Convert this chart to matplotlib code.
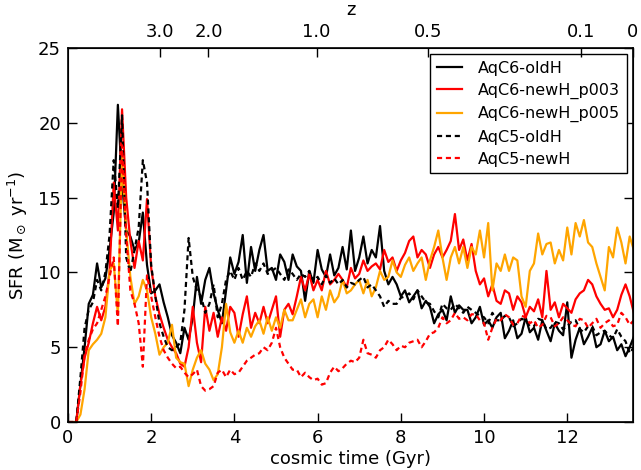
import numpy as np
import matplotlib
matplotlib.use("Agg")
from matplotlib import pyplot as plt


c6_oldH = [
    0, 0, 0, 2.5, 5.0, 7.9, 8.5, 10.6, 9.0, 9.6,
    11.5, 14.0, 21.2, 16.0, 12.8, 12.4, 11.5, 12.0, 14.0, 10.5,
    8.6, 8.8, 9.2, 8.0, 7.0, 5.8, 5.3, 4.6, 6.3, 5.5,
    7.0, 9.7, 7.9, 9.5, 10.3, 8.6, 7.5, 6.6, 8.8, 11.0,
    9.9, 10.7, 12.5, 9.3, 11.7, 10.1, 11.5, 12.5, 10.1, 10.3,
    9.5, 11.2, 10.7, 9.5, 11.2, 10.4, 10.1, 8.1, 10.1, 9.3,
    11.5, 10.2, 9.7, 11.2, 9.8, 10.3, 11.7, 10.2, 12.8, 10.1,
    11.0, 12.4, 10.6, 11.5, 11.0, 13.1, 10.1, 9.2, 9.7, 9.2,
    8.4, 8.8, 8.0, 8.4, 8.8, 7.6, 8.1, 7.7, 6.6, 7.2,
    7.5, 6.8, 8.4, 7.3, 7.8, 7.5, 7.5, 6.6, 7.0, 7.7,
    6.5, 6.8, 6.3, 7.0, 7.3, 5.6, 6.1, 6.8, 5.6, 5.9,
    7.0, 6.0, 6.3, 5.5, 6.8, 6.1, 5.4, 6.6, 6.1, 5.8,
    8.0, 4.3, 5.5, 6.3, 5.2, 5.7, 6.3, 5.0, 5.2, 6.1,
    5.4, 5.7, 4.8, 5.2, 4.4, 5.0, 5.7,
]
c6_newH_p003 = [
    0, 0, 0, 2.5, 4.3, 5.3, 6.6, 7.7, 6.8, 7.7,
    10.1, 16.0, 12.8, 20.9, 15.0, 12.1, 10.3, 12.1, 10.8, 14.9,
    10.3, 8.4, 7.2, 6.3, 5.5, 5.0, 4.6, 3.9, 3.7, 5.0,
    7.7, 5.3, 4.0, 7.7, 6.1, 7.3, 5.7, 7.0, 6.1, 7.7,
    7.3, 5.7, 7.2, 8.4, 6.3, 7.3, 6.6, 7.7, 6.6, 7.5,
    8.4, 5.7, 7.5, 7.9, 7.2, 8.4, 9.7, 8.8, 9.9, 8.8,
    9.5, 8.8, 10.1, 9.2, 9.5, 9.9, 9.5, 9.0, 10.3, 9.6,
    9.9, 10.8, 10.1, 10.4, 10.6, 10.2, 11.5, 10.7, 11.0, 10.1,
    10.8, 11.3, 12.1, 12.4, 11.0, 11.5, 11.2, 10.3, 11.2, 11.7,
    11.0, 11.5, 12.1, 13.9, 11.5, 12.2, 10.8, 11.9, 10.1, 9.2,
    9.6, 8.4, 9.2, 8.1, 7.9, 8.8, 8.6, 7.5, 8.4, 8.0,
    7.0, 7.7, 7.4, 8.2, 7.0, 10.1, 7.5, 8.0, 7.0, 7.9,
    7.6, 7.3, 8.2, 8.6, 8.8, 9.5, 9.2, 8.4, 7.9, 7.5,
    7.6, 7.0, 7.5, 8.5, 9.2, 8.4, 7.3,
]
c6_newH_p005 = [
    0, 0, 0, 0.5, 2.2, 4.8, 5.2, 5.5, 5.9, 7.0,
    10.1, 10.6, 7.2, 17.7, 12.8, 9.7, 7.9, 8.4, 9.5, 8.8,
    7.0, 5.9, 4.5, 5.0, 5.3, 6.5, 4.3, 4.0, 3.9, 2.4,
    3.5, 4.3, 4.8, 3.9, 3.5, 2.8, 3.2, 5.0, 7.9, 6.0,
    5.3, 6.1, 5.3, 6.3, 5.7, 6.4, 6.8, 5.9, 7.0, 6.1,
    7.0, 6.3, 7.5, 6.8, 6.8, 7.5, 8.2, 7.0, 7.9, 8.2,
    7.0, 8.4, 7.5, 8.8, 8.0, 8.4, 9.5, 8.6, 8.8, 9.2,
    9.5, 8.6, 9.5, 8.4, 9.0, 10.1, 9.5, 9.7, 10.8, 10.0,
    9.7, 10.5, 11.0, 10.1, 10.6, 11.0, 9.5, 10.8, 11.7, 12.8,
    11.0, 9.5, 11.0, 11.7, 10.6, 11.7, 10.3, 11.7, 11.2, 12.8,
    11.0, 13.3, 8.8, 10.6, 10.1, 11.2, 10.1, 11.0, 10.8, 8.4,
    7.7, 10.1, 10.6, 12.6, 11.2, 11.9, 12.0, 10.6, 11.5, 10.8,
    13.0, 11.2, 13.3, 12.4, 13.5, 12.0, 11.7, 10.6, 9.7, 8.8,
    11.7, 11.0, 13.0, 12.0, 10.6, 12.4, 11.5,
]
c5_oldH = [
    0, 0, 0, 3.0, 6.3, 7.5, 8.0, 9.5, 8.8, 10.0,
    12.5, 17.5, 14.3, 20.5, 11.0, 10.0, 11.5, 13.0, 17.5, 16.0,
    10.5, 8.4, 6.6, 5.7, 5.0, 4.8, 5.0, 5.3, 7.5, 12.3,
    9.7, 8.8, 8.4, 7.3, 7.9, 9.2, 7.0, 7.9, 9.5, 10.1,
    9.5, 10.3, 9.5, 10.1, 9.7, 10.6, 10.1, 10.6, 9.9, 10.1,
    10.3, 9.9, 9.5, 10.2, 9.9, 9.5, 9.9, 9.7, 10.1, 9.4,
    9.7, 9.2, 9.8, 9.3, 9.6, 9.2, 9.5, 9.0, 9.3, 9.2,
    9.5, 9.7, 9.0, 9.2, 8.8, 8.4, 7.7, 8.1, 7.9, 7.9,
    8.3, 8.4, 8.6, 8.2, 8.8, 8.4, 8.0, 7.9, 7.4, 7.0,
    7.9, 7.6, 7.5, 7.9, 7.6, 7.3, 7.7, 7.5, 7.3, 7.1,
    7.0, 6.6, 7.3, 6.8, 6.8, 7.1, 7.0, 6.4, 6.6, 6.9,
    6.8, 6.4, 6.4, 6.9, 6.8, 6.2, 6.3, 6.7, 6.6, 6.2,
    6.4, 6.7, 6.8, 6.2, 6.0, 6.4, 6.4, 5.8, 6.0, 6.1,
    5.8, 5.6, 6.2, 5.7, 5.4, 4.6, 5.0,
]
c5_newH = [
    0, 0, 0, 2.0, 4.5, 5.5, 6.2, 6.6, 7.5, 8.4,
    9.7, 11.0, 6.4, 18.5, 12.5, 8.8, 7.9, 6.6, 3.7, 9.8,
    8.4, 7.0, 5.7, 4.8, 4.3, 3.9, 3.6, 3.7, 3.3, 3.0,
    3.2, 3.5, 2.4, 2.1, 2.2, 2.4, 3.3, 3.5, 3.0, 3.5,
    3.2, 3.3, 3.7, 4.1, 4.3, 4.5, 4.6, 5.0, 4.8, 5.3,
    6.3, 5.0, 4.3, 3.9, 3.5, 3.5, 3.0, 3.3, 3.0, 2.8,
    2.9, 2.5, 2.6, 3.3, 3.7, 3.4, 3.6, 3.9, 4.1, 4.0,
    4.3, 5.5, 4.6, 4.5, 4.3, 4.8, 5.0, 5.5, 5.2, 4.8,
    5.1, 5.0, 5.3, 5.4, 5.5, 5.0, 5.4, 5.9, 6.0, 6.3,
    7.0, 6.6, 6.8, 7.3, 6.9, 7.0, 6.8, 7.2, 7.2, 6.8,
    6.6, 5.5, 6.3, 6.9, 6.8, 7.2, 7.0, 6.5, 6.6, 7.1,
    7.0, 6.6, 6.8, 6.3, 6.5, 7.1, 7.0, 6.4, 6.6, 7.0,
    6.8, 6.5, 6.4, 6.9, 6.8, 6.3, 6.6, 6.9, 6.3, 6.6,
    6.8, 6.4, 6.5, 7.3, 7.0, 6.5, 6.8,
]

labels = ["AqC6-oldH", "AqC6-newH_p003", "AqC6-newH_p005", "AqC5-oldH", "AqC5-newH"]
z_ticks = [3.0, 2.0, 1.0, 0.5, 0.1, 0.0]
z_ticklabels = ["3.0", "2.0", "1.0", "0.5", "0.1", "0"]

# Aquarius cosmology
H0, om, ol = 73.0, 0.25, 0.75


def cosmic_time(z):
    """age of a flat LCDM universe at redshift z, in Gyr"""
    hubble_time = 977.8 / H0
    a = (1.0 + np.asarray(z)) ** -1.5
    return 2.0 / (3.0 * np.sqrt(ol)) * hubble_time * np.arcsinh(np.sqrt(ol / om) * a)


plt.rcParams["font.family"] = "DejaVu Sans"
plt.rcParams["mathtext.fontset"] = "dejavusans"

fig = plt.figure(figsize=(6.41, 4.70), dpi=100)
ax = fig.add_axes([0.106, 0.102, 0.8815, 0.796])

t = np.arange(len(c6_oldH)) * 0.1
lw = 1.6
dash = (2.3, 1.7)
ax.plot(t, c6_oldH, color="k", lw=lw, label=labels[0])
ax.plot(t, c6_newH_p003, color="r", lw=lw, label=labels[1])
ax.plot(t, c6_newH_p005, color="orange", lw=lw, label=labels[2])
ax.plot(t, c5_oldH, color="k", lw=lw, dashes=dash, label=labels[3])
ax.plot(t, c5_newH, color="r", lw=lw, dashes=dash, label=labels[4])

t0 = float(cosmic_time(0.0))
ax.set_xlim(0, t0)
ax.set_ylim(0, 25)
ax.set_xticks([0, 2, 4, 6, 8, 10, 12])
ax.set_yticks([0, 5, 10, 15, 20, 25])
ax.set_xlabel("cosmic time (Gyr)", fontsize=13, labelpad=2)
ax.set_ylabel(r"SFR (M$_\odot$ yr$^{-1}$)", fontsize=13, labelpad=6)
ax.tick_params(direction="in", length=6.5, width=1, labelsize=13,
               top=False, right=True, pad=5)
for sp in ax.spines.values():
    sp.set_linewidth(1.2)

ax2 = ax.twiny()
ax2.set_xlim(ax.get_xlim())
ax2.set_xticks(cosmic_time(z_ticks))
ax2.set_xticklabels(z_ticklabels)
ax2.tick_params(direction="in", length=6.5, width=1, labelsize=13, pad=5)
ax2.set_xlabel("z", fontsize=13, labelpad=6)

leg = ax.legend(loc="upper right", fontsize=11.5, handlelength=1.6,
                handletextpad=1.0, labelspacing=0.45, borderaxespad=0.4,
                fancybox=False, framealpha=1)
leg.get_frame().set_edgecolor("k")
leg.get_frame().set_linewidth(1.0)

fig.savefig("out.png", dpi=100)
